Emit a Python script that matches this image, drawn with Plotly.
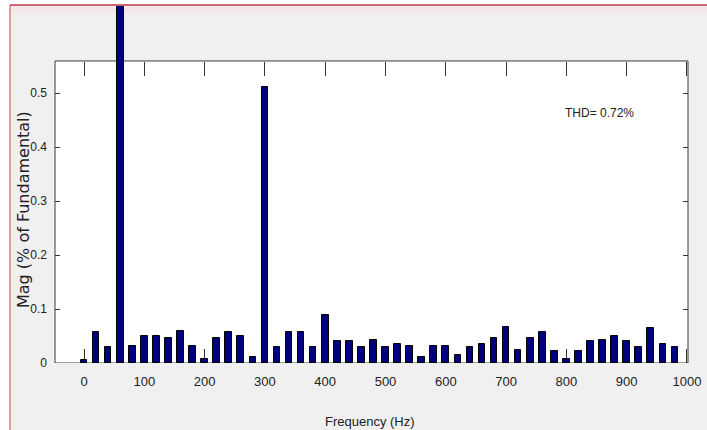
import plotly.graph_objects as go

# ---- data ----
freq_hz = [0, 20, 40, 60, 80, 100, 120, 140, 160, 180,
           200, 220, 240, 260, 280, 300, 320, 340, 360, 380,
           400, 420, 440, 460, 480, 500, 520, 540, 560, 580,
           600, 620, 640, 660, 680, 700, 720, 740, 760, 780,
           800, 820, 840, 860, 880, 900, 920, 940, 960, 980]
mag_pct = [0.005, 0.057, 0.029, 100.0, 0.032, 0.050, 0.050, 0.046, 0.060, 0.032,
           0.008, 0.046, 0.057, 0.050, 0.011, 0.511, 0.029, 0.057, 0.057, 0.029,
           0.089, 0.040, 0.040, 0.029, 0.043, 0.029, 0.036, 0.032, 0.011, 0.032,
           0.032, 0.015, 0.029, 0.036, 0.046, 0.067, 0.025, 0.046, 0.057, 0.022,
           0.008, 0.022, 0.040, 0.043, 0.050, 0.040, 0.029, 0.064, 0.036, 0.029]
x_ticks = [0, 100, 200, 300, 400, 500, 600, 700, 800, 900, 1000]
x_tick_text = ["0", "100", "200", "300", "400", "500", "600", "700", "800", "900", "1000"]
y_ticks = [0, 0.1, 0.2, 0.3, 0.4, 0.5]
y_tick_text = ["0", "0.1", "0.2", "0.3", "0.4", "0.5"]
thd_text = "THD= 0.72%"
x_title = "Frequency (Hz)"
y_title = "Mag (% of Fundamental)"

# ---- layout geometry ----
W, H = 707, 430
ML, MR, MT, MB = 55, 19, 6, 67
X_RANGE = [-48.1, 1001.7]
Y_RANGE = [0, 0.6611]
AX_TOP = 0.5593          # top of the MATLAB axes box (data units)
plot_h = H - MT - MB
plot_w = W - ML - MR


def px_x(p):
    return (p - ML) / plot_w


def px_y(p):
    return (H - MB - p) / plot_h


SANS = "Liberation Sans, Arial, sans-serif"
INK = "#222222"

fig = go.Figure()
fig.add_trace(go.Bar(
    x=freq_hz, y=mag_pct, width=11,
    marker=dict(color="#00007f", line=dict(color="#000000", width=1)),
    showlegend=False, hoverinfo="x+y",
))
fig.add_trace(go.Scatter(x=[], y=[], xaxis="x2", yaxis="y", showlegend=False,
                         hoverinfo="skip"))

shapes = [
    # window frame (gray figure area)
    dict(type="rect", xref="paper", yref="paper",
         x0=px_x(10), x1=px_x(W + 2), y0=px_y(H + 2), y1=px_y(5),
         fillcolor="#f0f0f0", line=dict(width=0), layer="below"),
    # pinkish band at the top of the window
    dict(type="rect", xref="paper", yref="paper",
         x0=px_x(10), x1=px_x(W + 2), y0=px_y(13), y1=px_y(5),
         fillcolor="#f4e7eb", line=dict(width=0), layer="below"),
    # red window border: top and left
    dict(type="line", xref="paper", yref="paper",
         x0=px_x(10), x1=px_x(W + 2), y0=px_y(5), y1=px_y(5),
         line=dict(color="#b8384a", width=1.5), layer="below"),
    dict(type="line", xref="paper", yref="paper",
         x0=px_x(10), x1=px_x(10), y0=px_y(H + 2), y1=px_y(5),
         line=dict(color="#e05a5a", width=1.2), layer="below"),
    # white axes box
    dict(type="rect", xref="x domain", yref="y",
         x0=0, x1=1, y0=0, y1=AX_TOP,
         fillcolor="#ffffff", line=dict(color="#3a3a3a", width=1), layer="below"),
]

annotations = [
    dict(text=thd_text, x=794, y=0.4624, xref="x", yref="y",
         xanchor="left", yanchor="middle", showarrow=False,
         font=dict(family=SANS, size=12, color=INK)),
    dict(text=y_title, x=px_x(23), y=px_y(210), xref="paper", yref="paper",
         xanchor="center", yanchor="middle", textangle=-90, showarrow=False,
         font=dict(family="DejaVu Sans, Verdana, sans-serif", size=16, color=INK)),
    dict(text=x_title, x=px_x(370), y=px_y(421), xref="paper", yref="paper",
         xanchor="center", yanchor="middle", showarrow=False,
         font=dict(family=SANS, size=13, color=INK)),
]

fig.update_layout(
    width=W, height=H,
    margin=dict(l=ML, r=MR, t=MT, b=MB, pad=0, autoexpand=False),
    paper_bgcolor="#ffffff",
    plot_bgcolor="#f0f0f0",
    bargap=0,
    shapes=shapes,
    annotations=annotations,
    xaxis=dict(range=X_RANGE, tickvals=x_ticks, ticktext=x_tick_text,
               ticks="inside", ticklen=14, tickwidth=1, tickcolor="#333333",
               showline=False, showgrid=False, zeroline=False,
               layer="below traces", ticklabelstandoff=9,
               tickfont=dict(family=SANS, size=13, color=INK),
               fixedrange=True),
    xaxis2=dict(range=X_RANGE, tickvals=x_ticks, overlaying="x", side="top",
                anchor="free", position=px_y(61),
                ticks="inside", ticklen=14, tickwidth=1, tickcolor="#333333",
                showticklabels=False, showline=False, showgrid=False,
                zeroline=False, layer="below traces", fixedrange=True),
    yaxis=dict(range=Y_RANGE, tickvals=y_ticks, ticktext=y_tick_text,
               ticks="inside", ticklen=5, tickwidth=1, tickcolor="#333333",
               mirror="ticks", showline=False, showgrid=False, zeroline=False,
               layer="below traces", ticklabelstandoff=7,
               tickfont=dict(family=SANS, size=12, color=INK),
               fixedrange=True),
)

fig.write_html("out.html",
               config={"displayModeBar": False},
               post_script="document.body.style.margin='0';document.body.style.padding='0';")
